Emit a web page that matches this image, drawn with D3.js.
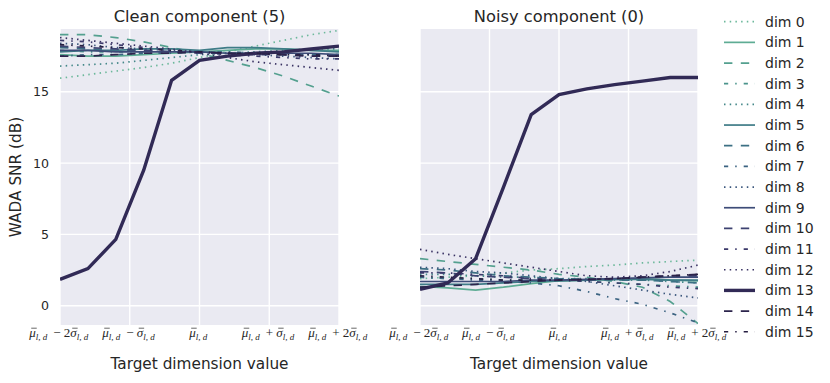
<!DOCTYPE html>
<html lang="en">
<head>
<meta charset="utf-8">
<title>WADA SNR per target dimension</title>
<script src="https://d3js.org/d3.v7.min.js"></script>
<style>
  body { margin: 0; background: #fff; }
  svg text { font-family: "DejaVu Sans", sans-serif; fill: #262626; }
  svg text.math { font-family: "Liberation Serif", "DejaVu Serif", serif; }
</style>
</head>
<body>
<div id="chart"></div>
<script>
// x positions of the evaluated points (in units of sigma)
const xSteps = [-2, -1.6, -1.2, -0.8, -0.4, 0, 0.4, 0.8, 1.2, 1.6, 2];
const xTicks = [-2, -1, 0, 1, 2];
// "^" marks a barred symbol, "_{..}" a subscript
const xTickLabels = [
  "^μ_{l, d} − 2^σ_{l, d}",
  "^μ_{l, d} − ^σ_{l, d}",
  "^μ_{l, d}",
  "^μ_{l, d} + ^σ_{l, d}",
  "^μ_{l, d} + 2^σ_{l, d}"
];
const yTicks = [0, 5, 10, 15];
const dimLabels = d3.range(16).map(i => "dim " + i);
const panelTitles = ["Clean component (5)", "Noisy component (0)"];

// WADA SNR (dB), one row per dimension
const cleanValues = [
  [15.95, 16.2, 16.45, 16.7, 17.0, 17.4, 17.8, 18.2, 18.6, 19.0, 19.3],
  [17.6, 17.5, 17.5, 17.6, 17.7, 17.8, 17.9, 18.0, 18.0, 17.9, 17.9],
  [19.0, 19.0, 18.8, 18.5, 18.1, 17.7, 17.2, 16.7, 16.1, 15.4, 14.7],
  [17.9, 17.8, 17.8, 17.8, 17.8, 17.8, 17.8, 17.7, 17.7, 17.6, 17.6],
  [16.8, 16.9, 17.0, 17.2, 17.4, 17.6, 17.7, 17.8, 17.9, 18.0, 18.0],
  [17.8, 17.9, 17.9, 18.0, 18.0, 17.9, 18.1, 18.1, 18.0, 17.9, 17.8],
  [18.1, 18.0, 17.9, 17.9, 17.8, 17.8, 17.7, 17.7, 17.6, 17.6, 17.5],
  [17.5, 17.6, 17.6, 17.7, 17.7, 17.8, 17.8, 17.7, 17.7, 17.6, 17.6],
  [18.4, 18.3, 18.1, 18.0, 17.9, 17.8, 17.7, 17.6, 17.5, 17.4, 17.3],
  [17.9, 17.9, 17.8, 17.8, 17.8, 17.8, 17.7, 17.7, 17.7, 17.7, 17.6],
  [18.2, 18.1, 18.0, 17.9, 17.8, 17.7, 17.7, 17.6, 17.6, 17.5, 17.5],
  [18.6, 18.5, 18.3, 18.1, 17.9, 17.8, 17.6, 17.5, 17.4, 17.3, 17.3],
  [18.8, 18.6, 18.4, 18.2, 18.0, 17.7, 17.4, 17.1, 16.9, 16.7, 16.5],
  [1.85, 2.6, 4.65, 9.5, 15.8, 17.2, 17.5, 17.7, 17.8, 18.0, 18.2],
  [17.5, 17.5, 17.6, 17.7, 17.7, 17.8, 17.7, 17.7, 17.6, 17.5, 17.5],
  [18.3, 18.2, 18.1, 18.0, 17.9, 17.8, 17.7, 17.7, 17.6, 17.6, 17.5]
];
const noisyValues = [
  [1.9, 2.0, 2.1, 2.3, 2.5, 2.6, 2.75, 2.85, 3.0, 3.1, 3.2],
  [1.35, 1.25, 1.1, 1.3, 1.55, 1.75, 1.8, 1.85, 1.9, 1.8, 1.75],
  [3.3, 3.1, 2.9, 2.7, 2.5, 2.2, 2.0, 1.7, 1.3, 0.3, -1.25],
  [2.0, 1.9, 1.9, 1.8, 1.8, 1.8, 1.7, 1.6, 1.5, 1.4, 1.3],
  [2.2, 2.2, 2.1, 2.0, 2.0, 1.9, 1.9, 1.8, 1.8, 1.7, 1.6],
  [1.5, 1.5, 1.5, 1.6, 1.7, 1.75, 1.8, 1.85, 1.85, 1.8, 1.8],
  [2.6, 2.5, 2.3, 2.1, 2.0, 1.9, 1.85, 1.8, 1.8, 1.7, 1.6],
  [2.0, 1.9, 1.8, 1.7, 1.6, 1.4, 1.0, 0.5, 0.1, -0.5, -1.2],
  [2.7, 2.6, 2.4, 2.3, 2.1, 1.9, 1.7, 1.4, 1.1, 0.8, 0.55],
  [1.7, 1.7, 1.7, 1.7, 1.8, 1.8, 1.85, 1.9, 1.95, 2.0, 2.0],
  [2.4, 2.3, 2.1, 2.0, 1.9, 1.8, 1.8, 1.9, 2.0, 2.1, 2.1],
  [2.3, 2.3, 2.2, 2.1, 1.9, 1.8, 1.7, 1.6, 1.5, 1.3, 1.2],
  [3.95, 3.6, 3.3, 3.0, 2.7, 2.4, 2.1, 2.0, 2.1, 2.4, 2.85],
  [1.15, 1.6, 3.3, 8.3, 13.4, 14.8, 15.2, 15.5, 15.75, 16.0, 16.0],
  [1.3, 1.4, 1.5, 1.6, 1.7, 1.8, 1.85, 1.9, 2.0, 2.1, 2.2],
  [2.1, 2.0, 1.9, 1.8, 1.8, 1.8, 1.85, 1.9, 2.0, 2.1, 2.2]
];
const highlightDim = 13;

const colors = ["#6cb89b", "#5eac94", "#54a08f", "#4b948c", "#448889", "#3f7c87",
  "#3c7084", "#3b6381", "#3b577d", "#3d4c78", "#3d4271", "#3b396a",
  "#383162", "#312a56", "#2c244c", "#271f42"];
const dashes = ["1.5,4.2", null, "8.4,8.4", "4.2,7,1.5,7"];

const width = 830, height = 383;
const svg = d3.select("#chart").append("svg")
  .attr("width", width).attr("height", height);

const y = d3.scaleLinear().domain([-1.35, 19.4]).range([325, 29]);
const panels = [
  { title: panelTitles[0], values: cleanValues, x0: 60, x1: 339, yLabels: true },
  { title: panelTitles[1], values: noisyValues, x0: 420, x1: 698, yLabels: false }
];

function mathLabel(sel, str) {
  const parts = str.split(/(_\{[^}]*\}|\^[μσ])/).filter(s => s.length);
  parts.forEach(p => {
    if (p.startsWith("_{")) {
      sel.append("tspan").attr("font-size", 9).attr("font-style", "italic")
        .attr("dy", 3).text(p.slice(2, -1));
      sel.append("tspan").attr("dy", -3).text("\u2009");
    } else if (p.startsWith("^")) {
      sel.append("tspan").attr("class", "bar").attr("font-style", "italic").text(p.slice(1));
    } else {
      sel.append("tspan").text(p);
    }
  });
}

function drawBars(g) {
  // overbars above the barred symbols, placed from the glyph extents
  g.selectAll("tspan.bar").each(function () {
    const e = this.getExtentOfChar(0);
    g.append("line")
      .attr("x1", e.x + 2).attr("x2", e.x + e.width + 1)
      .attr("y1", e.y + 3.2).attr("y2", e.y + 3.2)
      .attr("stroke", "#262626").attr("stroke-width", 0.7);
  });
}

panels.forEach((p, pi) => {
  const x = d3.scaleLinear().domain([-2, 2]).range([p.x0, p.x1]);
  const g = svg.append("g");

  g.append("rect").attr("x", p.x0).attr("y", 29)
    .attr("width", p.x1 - p.x0).attr("height", 325 - 29).attr("fill", "#eaeaf2");

  g.append("g").selectAll("line").data(yTicks).join("line")
    .attr("x1", p.x0).attr("x2", p.x1)
    .attr("y1", d => y(d)).attr("y2", d => y(d))
    .attr("stroke", "#fff").attr("stroke-width", 1.4);
  g.append("g").selectAll("line").data(xTicks).join("line")
    .attr("x1", d => x(d)).attr("x2", d => x(d))
    .attr("y1", 29).attr("y2", 325)
    .attr("stroke", "#fff").attr("stroke-width", 1.4);

  svg.append("clipPath").attr("id", "clip" + pi).append("rect")
    .attr("x", p.x0).attr("y", 29).attr("width", p.x1 - p.x0).attr("height", 325 - 29);

  const line = d3.line().x((d, i) => x(xSteps[i])).y(d => y(d));
  g.append("g").attr("clip-path", `url(#clip${pi})`)
    .selectAll("path").data(p.values).join("path")
    .attr("d", line)
    .attr("fill", "none")
    .attr("stroke", (d, i) => colors[i])
    .attr("stroke-width", (d, i) => i === highlightDim ? 3.4 : 1.7)
    .attr("stroke-dasharray", (d, i) => dashes[i % 4]);

  if (p.yLabels) {
    g.append("g").selectAll("text").data(yTicks).join("text")
      .attr("x", p.x0 - 11).attr("y", d => y(d) + 4.5)
      .attr("text-anchor", "end").attr("font-size", 12.6)
      .text(d => d);
  }

  const tl = g.append("g");
  tl.selectAll("text").data(xTicks).join("text")
    .attr("class", "math")
    .attr("x", d => x(d)).attr("y", 337)
    .attr("text-anchor", "middle").attr("font-size", 13)
    .each(function (d, i) { mathLabel(d3.select(this), xTickLabels[i]); });
  drawBars(tl);

  g.append("text").attr("x", (p.x0 + p.x1) / 2).attr("y", 22)
    .attr("text-anchor", "middle").attr("font-size", 16.3).text(p.title);
  g.append("text").attr("x", (p.x0 + p.x1) / 2).attr("y", 369)
    .attr("text-anchor", "middle").attr("font-size", 15.3).text("Target dimension value");
});

svg.append("text")
  .attr("transform", "translate(21,177) rotate(-90)")
  .attr("text-anchor", "middle").attr("font-size", 15.3)
  .text("WADA SNR (dB)");

const legend = svg.append("g");
const entry = legend.selectAll("g").data(dimLabels).join("g")
  .attr("transform", (d, i) => `translate(724,${21.7 + i * 20.67})`);
entry.append("line").attr("x1", 0).attr("x2", 31)
  .attr("stroke", (d, i) => colors[i])
  .attr("stroke-width", (d, i) => i === highlightDim ? 3.4 : 1.7)
  .attr("stroke-dasharray", (d, i) => dashes[i % 4]);
entry.append("text").attr("x", 41).attr("y", 5)
  .attr("font-size", 14).text(d => d);
</script>
</body>
</html>
